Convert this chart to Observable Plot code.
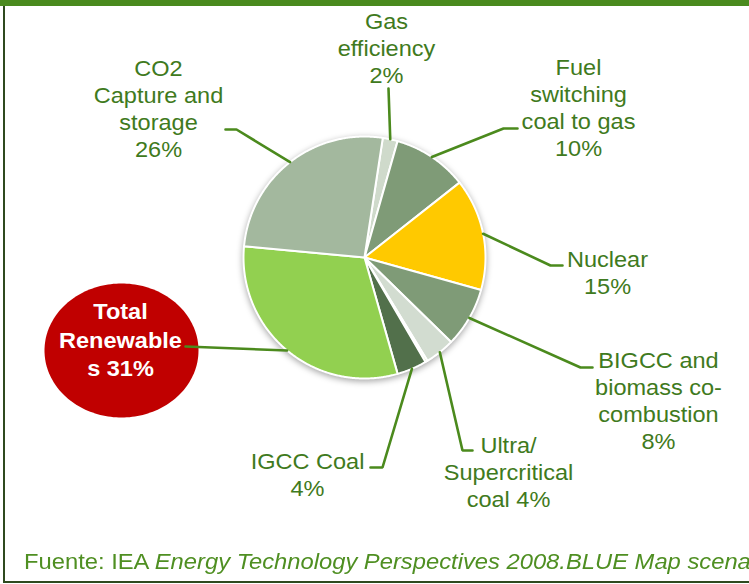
<!DOCTYPE html>
<html><head><meta charset="utf-8">
<script src="https://cdn.jsdelivr.net/npm/d3@7"></script>
<script src="https://cdn.jsdelivr.net/npm/@observablehq/plot@0.6"></script>
<style>
html,body{margin:0;padding:0;background:#fff;overflow:hidden;}
#wrap{position:relative;width:749px;height:584px;overflow:hidden;font-family:"Liberation Sans",Arial,sans-serif;}
#wrap svg{position:absolute;left:0;top:0;}
.topbar{position:absolute;left:0;top:0;width:749px;height:6px;background:#4a8a1e;}
.leftline{position:absolute;left:3px;top:6px;width:2px;height:577px;background:#2f4a1f;}
.bottomline{position:absolute;left:3px;top:581px;width:746px;height:2px;background:#2f4a1f;}
.caption{position:absolute;left:24px;top:550px;font-size:21.5px;line-height:24px;color:#4f8f22;white-space:nowrap;transform:scaleX(1.105);transform-origin:left center;}
</style></head><body><div id="wrap"></div>
<script>
// ---- data ----
const categories = ["Gas efficiency","Fuel switching coal to gas","Nuclear","BIGCC and biomass co-combustion","Ultra/Supercritical coal","(sliver)","IGCC Coal","Total Renewables","CO2 Capture and storage"];
const shares = [2, 10, 15, 8, 4, 0.3, 4, 31, 26];
const labelTexts = ["Gas\nefficiency\n2%","Fuel\nswitching\ncoal to gas\n10%","Nuclear\n15%","BIGCC and\nbiomass co-\ncombustion\n8%","Ultra/\nSupercritical\ncoal 4%","","IGCC Coal\n4%","Total\nRenewable\ns 31%","CO2\nCapture and\nstorage\n26%"];
const captionPlain = "Fuente: IEA ";
const captionItalic = "Energy Technology Perspectives 2008.BLUE Map scenario";

// ---- styles / layout ----
const sliceColors = ["#cfdacb","#7f9b77","#ffc900","#7f9b77","#d2dcd0","#92d050","#52704b","#92d050","#a3b89e"];
const W = 749, H = 584;
const cx = 364, cy = 257, R = 121;
const startDeg = 8.7;
// label block centers and leader elbow/end points (null where no label)
const labelPos = [[386,47],[578,106.5],[607,271],[658,399],[508,471],null,[307,473.5],[120,338],[158,107.5]];
const leaderPts = [[[388,88]],[[503,128],[517,128]],[[550,265],[562,265]],[[580,367],[592,367]],[[462,450],[472,450]],null,[[382,467],[370,467]],[[185,346]],[[236,129],[225,129]]];
const ellipse = {x:121, y:350, rx:77, ry:67};

const rows = categories.map((c,i)=>({i, category:c, value:shares[i], label:labelTexts[i], color:sliceColors[i]}));
const a0 = startDeg*Math.PI/180;
const arcs = d3.pie().sort(null).value(d=>d.value).startAngle(a0).endAngle(a0+2*Math.PI)(rows);

const wedgePts = arcs.flatMap(a=>{
  const pts=[{i:a.data.i,x:cx,y:cy,c:a.data.color}];
  const n=Math.max(2,Math.ceil((a.endAngle-a.startAngle)/0.008));
  for(let k=0;k<=n;k++){const t=a.startAngle+(a.endAngle-a.startAngle)*k/n; pts.push({i:a.data.i,x:cx+R*Math.sin(t),y:cy-R*Math.cos(t),c:a.data.color});}
  pts.push({i:a.data.i,x:cx,y:cy,c:a.data.color});
  return pts;
});

const leaders = arcs.flatMap(a=>{
  const lp = leaderPts[a.data.i]; if(!lp) return [];
  const m=(a.startAngle+a.endAngle)/2;
  return [{i:a.data.i,x:cx+R*Math.sin(m),y:cy-R*Math.cos(m)}, ...lp.map(p=>({i:a.data.i,x:p[0],y:p[1]}))];
});

const ellPts = d3.range(0,361,2).map(d=>({x:ellipse.x+ellipse.rx*Math.cos(d*Math.PI/180), y:ellipse.y+ellipse.ry*Math.sin(d*Math.PI/180)}));

const labelRows = rows.filter(r=>labelPos[r.i] && r.label).map(r=>({...r, lx:labelPos[r.i][0], ly:labelPos[r.i][1]}));
const renewIdx = 7;

const plot = Plot.plot({
  width: W, height: H,
  margin: 0,
  x: {domain:[0,W], range:[0,W], axis:null},
  y: {domain:[0,H], range:[0,H], axis:null},
  color: {type:"identity"},
  style: {fontFamily:'"Liberation Sans", Arial, sans-serif', background:"transparent", overflow:"visible"},
  marks: [
    Plot.line(ellPts, {x:"x", y:"y", fill:"#c00000", stroke:"none", curve:"linear"}),
    Plot.line(wedgePts, {x:"x", y:"y", z:"i", fill:"c", stroke:"#ffffff", strokeWidth:2, strokeLinejoin:"round", curve:"linear"}),
    Plot.line(leaders, {x:"x", y:"y", z:"i", stroke:"#4b8a1d", strokeWidth:2.6, strokeLinejoin:"miter", curve:"linear"}),
    Plot.text(labelRows.filter(r=>r.i!==renewIdx), {x:"lx", y:"ly", text:"label", fill:"#3f7a20", fontSize:22, lineHeight:27/22, lineAnchor:"middle", textAnchor:"middle"}),
    Plot.text(labelRows.filter(r=>r.i===renewIdx), {x:"lx", y:"ly", text:"label", fill:"#ffffff", fontSize:22, fontWeight:"bold", lineHeight:28.5/22, lineAnchor:"middle", textAnchor:"middle"})
  ]
});

const wrap = document.getElementById("wrap");
wrap.appendChild(plot);
// shadow on pie (second line mark)
const lineGroups = plot.querySelectorAll('g[aria-label="line"]');
if (lineGroups[1]) lineGroups[1].style.filter = "drop-shadow(0px 2px 3px rgba(0,0,0,0.35))";
// slight horizontal stretch of text like the reference
plot.querySelectorAll('g[aria-label="text"] text').forEach(t=>{
  const tr = t.getAttribute("transform");
  if (tr) t.setAttribute("transform", tr + " scale(1.07,1)");
});

for (const cls of ["topbar","leftline","bottomline"]) { const d=document.createElement("div"); d.className=cls; wrap.appendChild(d); }
const cap = document.createElement("div");
cap.className = "caption";
cap.appendChild(document.createTextNode(captionPlain));
const it = document.createElement("i"); it.textContent = captionItalic; cap.appendChild(it);
wrap.appendChild(cap);
</script>
</body></html>
